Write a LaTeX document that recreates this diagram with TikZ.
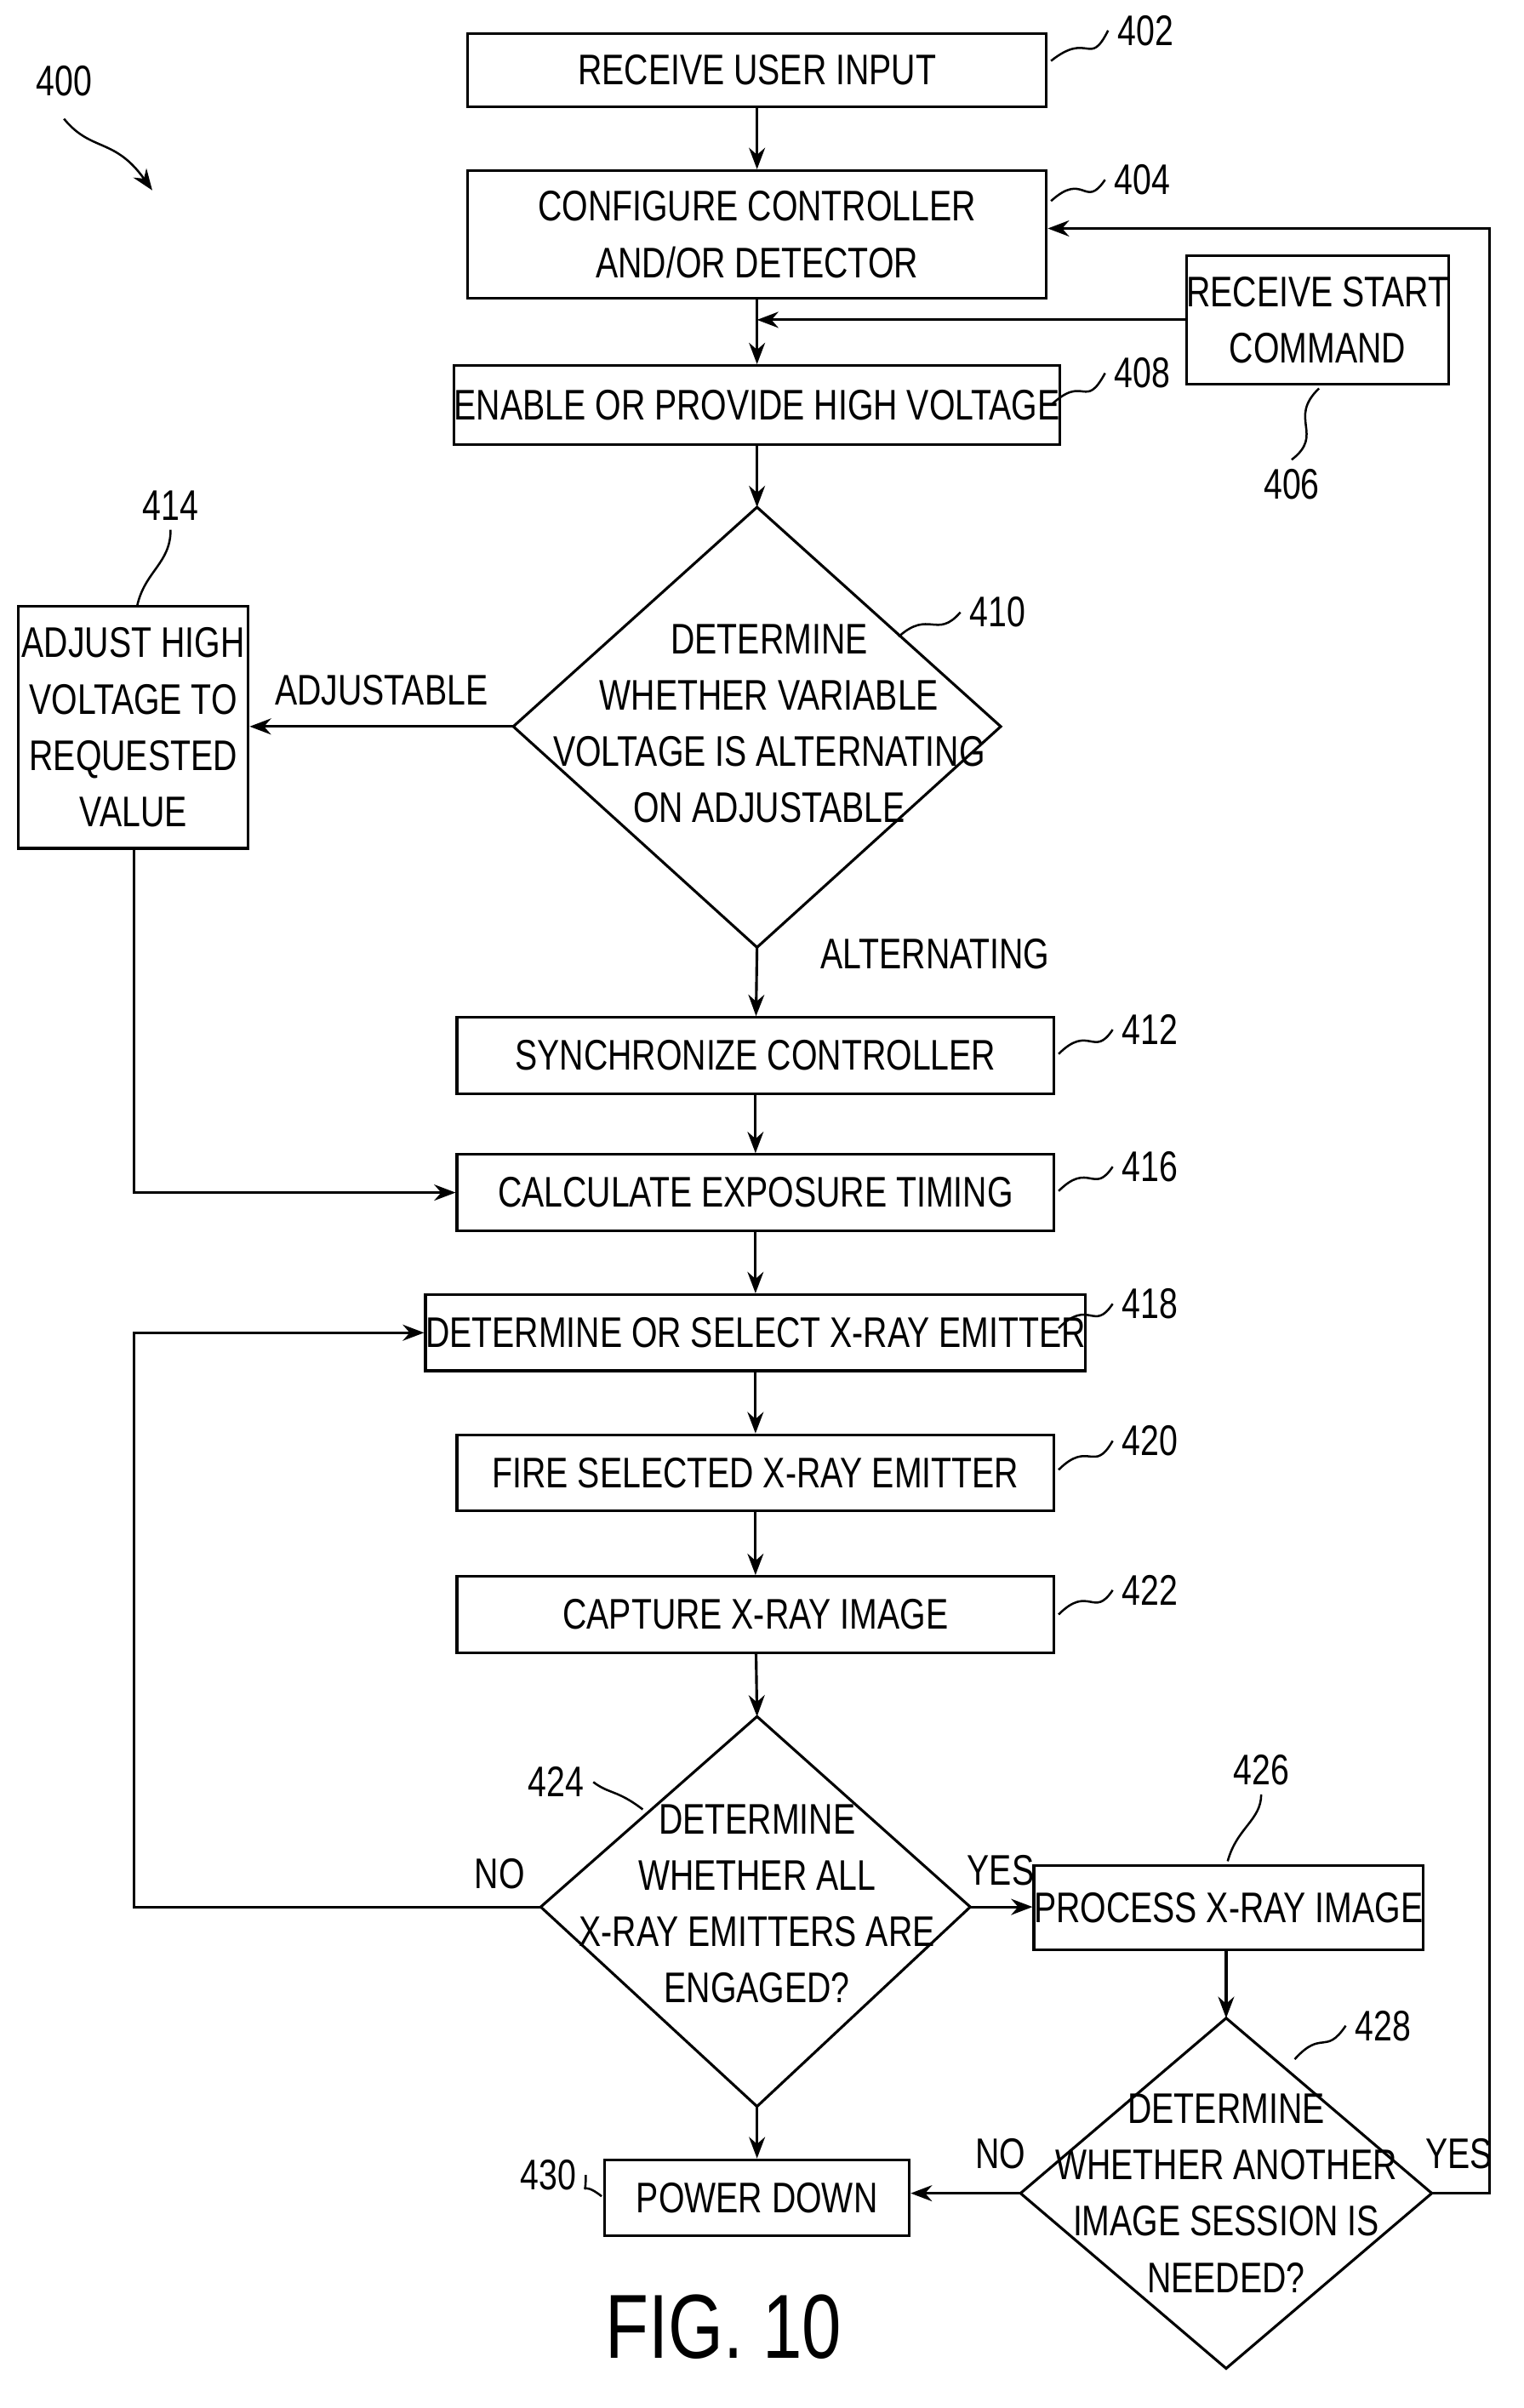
\documentclass[tikz,border=0pt]{standalone}
\usepackage{fontspec}
\setmainfont{Liberation Sans}[FakeStretch=0.78]
\usetikzlibrary{arrows.meta,shapes.geometric}
\begin{document}
\begin{tikzpicture}[x=0.02cm,y=-0.02cm,
  every node/.style={font=\fontsize{16}{21}\selectfont,align=center},
  box/.style={draw,line width=1pt,inner sep=0pt},
  arr/.style={-{Stealth[length=8pt,width=6pt]},line width=1pt},
  ln/.style={line width=0.8pt}]
\useasboundingbox (0,0) rectangle (1000,1581);
\def\bx#1#2#3#4#5#6{\node[box,minimum width={(#4-#2)*0.02cm},minimum height={(#5-#3)*0.02cm}] (#1) at ({(#2+#4)/2},{(#3+#5)/2}) {#6};}
\bx{b402}{307}{22}{687}{70}{RECEIVE USER INPUT}
\bx{b404}{307}{112}{687}{196}{CONFIGURE CONTROLLER\\AND/OR DETECTOR}
\bx{b406}{780}{168}{950}{252}{RECEIVE START\\COMMAND}
\bx{b408}{307}{240}{687}{292}{ENABLE OR PROVIDE HIGH VOLTAGE}
\bx{b414}{12}{398}{163}{557}{ADJUST HIGH\\VOLTAGE TO\\REQUESTED\\VALUE}
\bx{b412}{300}{668}{692}{718}{SYNCHRONIZE CONTROLLER}
\bx{b416}{300}{758}{692}{808}{CALCULATE EXPOSURE TIMING}
\bx{b418}{300}{850}{692}{900}{DETERMINE OR SELECT X-RAY EMITTER}
\bx{b420}{300}{942}{692}{992}{FIRE SELECTED X-RAY EMITTER}
\bx{b422}{300}{1035}{692}{1085}{CAPTURE X-RAY IMAGE}
\bx{b426}{683}{1225}{930}{1280}{PROCESS X-RAY IMAGE}
\bx{b430}{397}{1418}{597}{1468}{POWER DOWN}
% diamonds
\coordinate (d410t) at (497,333); \coordinate (d410b) at (497,622);
\coordinate (d410l) at (337,477); \coordinate (d410r) at (657,477);
\draw[ln,line width=1pt] (d410t)--(d410r)--(d410b)--(d410l)--cycle;
\node (t410) at (505,475) {DETERMINE\\WHETHER VARIABLE\\VOLTAGE IS ALTERNATING\\ON ADJUSTABLE};
\coordinate (d424t) at (497,1127); \coordinate (d424b) at (497,1383);
\coordinate (d424l) at (355,1252); \coordinate (d424r) at (637,1252);
\draw[line width=1pt] (d424t)--(d424r)--(d424b)--(d424l)--cycle;
\node (t424) at (497,1250) {DETERMINE\\WHETHER ALL\\X-RAY EMITTERS ARE\\ENGAGED?};
\coordinate (d428t) at (805,1325); \coordinate (d428b) at (805,1555);
\coordinate (d428l) at (670,1440); \coordinate (d428r) at (940,1440);
\draw[line width=1pt] (d428t)--(d428r)--(d428b)--(d428l)--cycle;
\node (t428) at (805,1440) {DETERMINE\\WHETHER ANOTHER\\IMAGE SESSION IS\\NEEDED?};
% connectors
\draw[arr] (b402)--(b404);
\draw[arr] (b404)--(b408);
\coordinate (j406) at (497,210);
\draw[arr] (b406.west|-j406)--(j406);
\draw[arr] (b408)--(d410t);
\draw[arr] (d410l)--(b414.east|-d410l) node[midway,above=4pt] {ADJUSTABLE};
\draw[arr] (d410b)--(b412) node[pos=0.1,right=20pt] {ALTERNATING};
\draw[arr] (b412)--(b416);
\draw[arr] (b414.south-|88,0) |- (b416.west);
\draw[arr] (b416)--(b418);
\draw[arr] (b418)--(b420);
\draw[arr] (b420)--(b422);
\draw[arr] (b422)--(d424t);
\draw[arr] (d424l) -| (88,875) -- (b418.west);
\node at (328,1230) {NO};
\draw[arr] (d424r)--(b426.west|-d424r);
\node at (657,1228) {YES};
\draw[arr] (b426.south-|805,0)--(d428t);
\draw[arr] (d424b)--(b430);
\draw[arr] (d428l)--(b430.east|-d428l);
\node at (657,1414) {NO};
\draw[arr] (d428r) -- (978,1440) -- (978,150) -- (b404.east|-0,150);
\node at (958,1414) {YES};
% reference labels
\node (n402) at (752,20) {402}; \draw[ln] (690,40) .. controls (715,20) and (715,45) .. (n402.west);
\node (n404) at (750,118) {404}; \draw[ln] (690,132) .. controls (712,112) and (712,138) .. (n404.west);
\node (n406) at (848,318) {406}; \draw[ln] (866,255) .. controls (845,275) and (870,285) .. (n406.north);
\node (n408) at (750,245) {408}; \draw[ln] (690,266) .. controls (712,245) and (712,270) .. (n408.west);
\node (n410) at (655,402) {410}; \draw[ln] (590,418) .. controls (610,400) and (615,420) .. (n410.west);
\node (n414) at (112,332) {414}; \draw[ln] (90,398) .. controls (95,375) and (112,370) .. (n414.south);
\node (n412) at (755,676) {412}; \draw[ln] (695,692) .. controls (715,672) and (718,695) .. (n412.west);
\node (n416) at (755,766) {416}; \draw[ln] (695,782) .. controls (715,762) and (718,785) .. (n416.west);
\node (n418) at (755,856) {418}; \draw[ln] (695,872) .. controls (715,852) and (718,875) .. (n418.west);
\node (n420) at (755,946) {420}; \draw[ln] (695,965) .. controls (715,945) and (718,968) .. (n420.west);
\node (n422) at (755,1044) {422}; \draw[ln] (695,1060) .. controls (715,1040) and (718,1063) .. (n422.west);
\node (n424) at (365,1170) {424}; \draw[ln] (422,1188) .. controls (405,1175) and (400,1178) .. (n424.east);
\node (n426) at (828,1162) {426}; \draw[ln] (806,1222) .. controls (812,1200) and (828,1195) .. (n426.south);
\node (n428) at (908,1330) {428}; \draw[ln] (850,1352) .. controls (868,1332) and (870,1350) .. (n428.west);
\node (n430) at (360,1428) {430}; \draw[ln] (395,1442) .. controls (380,1430) and (385,1445) .. (n430.east);
\node (n400) at (42,53) {400};
\draw[-{Stealth[length=8pt,width=6pt]},ln] (42,78) .. controls (60,100) and (75,90) .. (100,125);
\node[font=\fontsize{34}{40}\selectfont] (fig) at (475,1528) {FIG. 10};
\end{tikzpicture}
\end{document}
